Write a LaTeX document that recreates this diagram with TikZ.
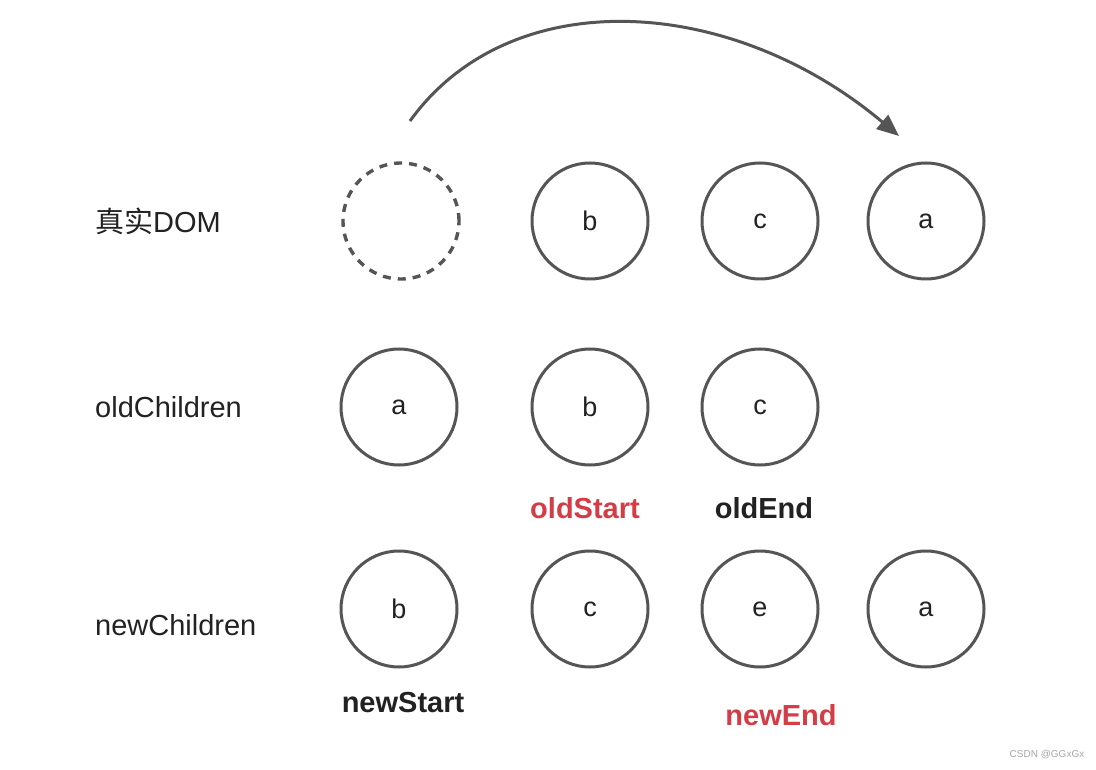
\documentclass[tikz,border=0pt]{standalone}
\usepackage{fontspec}
\setmainfont{Liberation Sans}
\newfontfamily\cjk{Noto Sans CJK SC}
\usetikzlibrary{arrows.meta}
\definecolor{edge}{HTML}{555555}
\definecolor{txt}{HTML}{222222}
\definecolor{redlab}{HTML}{D43C46}
\begin{document}
\begin{tikzpicture}[x=1pt,y=-1pt,
  vnode/.style={circle,draw=edge,line width=3pt,minimum size=116pt,inner sep=0pt,text=txt,font=\fontsize{27}{27}\selectfont},
  ghost/.style={vnode,line width=3.4pt,dash pattern=on 8pt off 7pt},
  rowlab/.style={anchor=west,text=txt,font=\fontsize{29}{29}\selectfont,inner sep=0pt},
  ptr/.style={text=txt,font=\bfseries\fontsize{29}{29}\selectfont,inner sep=0pt},
  ptrred/.style={ptr,text=redlab}]
\useasboundingbox (0,0) rectangle (1096,770);
\fill[white] (0,0) rectangle (1096,770);
% row labels
\node[rowlab] (l1) at (95,221) {{\cjk 真实}DOM};
\node[rowlab] (l2) at (95,407) {oldChildren};
\node[rowlab] (l3) at (95,625) {newChildren};
% real DOM
\node[ghost] (d0) at (401,221) {};
\node[vnode] (d1) at (590,221) {b};
\node[vnode] (d2) at (760,221) {c};
\node[vnode] (d3) at (926,221) {a};
% old children
\node[vnode] (o0) at (399,407) {a};
\node[vnode] (o1) at (590,407) {b};
\node[vnode] (o2) at (760,407) {c};
% new children
\node[vnode] (n0) at (399,609) {b};
\node[vnode] (n1) at (590,609) {c};
\node[vnode] (n2) at (760,609) {e};
\node[vnode] (n3) at (926,609) {a};
% pointers
\node[ptrred] (os) at (585,508) {oldStart};
\node[ptr] (oe) at (764,508) {oldEnd};
\node[ptr] (ns) at (403,703) {newStart};
\node[ptrred] (ne) at (781,715) {newEnd};
% move arrow
\coordinate (mstart) at (410,121);
\coordinate (mend) at (899,136);
\draw[edge,line width=3pt,-{Triangle[length=22pt,width=18pt]}] (mstart) .. controls (510,-18) and (730,-6) .. (mend);
% watermark
\node[text=gray!70,font=\fontsize{10}{10}\selectfont,inner sep=0pt] (wm) at (1047,755) {CSDN @GGxGx};
\end{tikzpicture}
\end{document}
